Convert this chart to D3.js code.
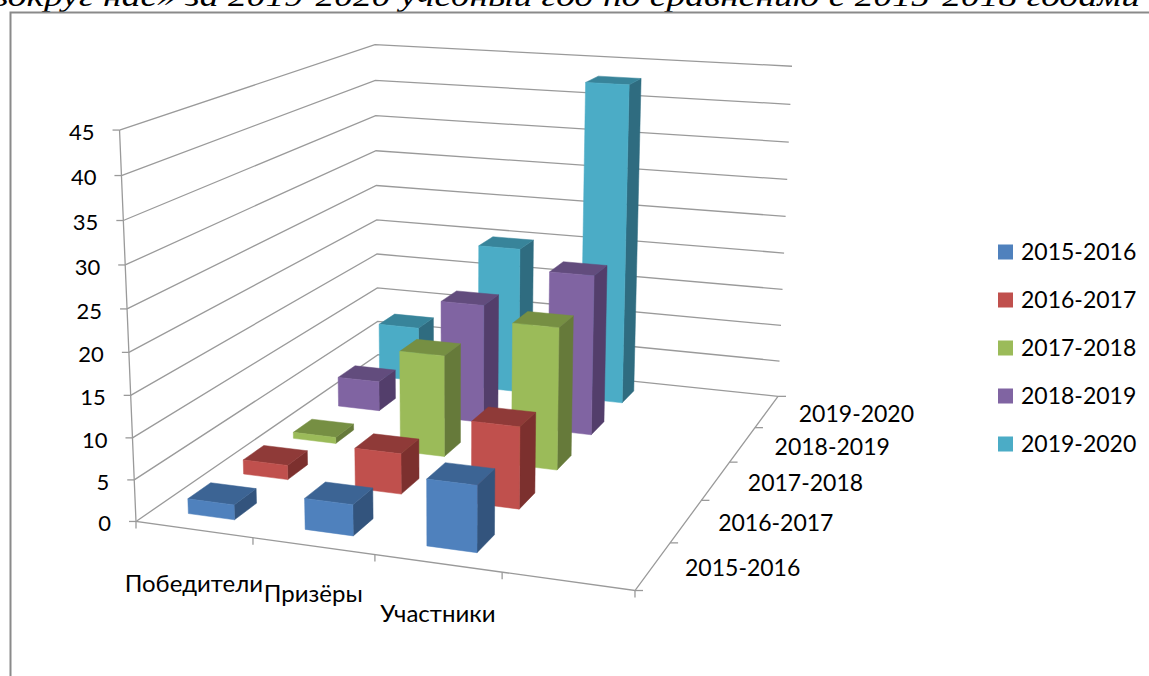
<!DOCTYPE html>
<html><head><meta charset="utf-8">
<script src="https://cdn.jsdelivr.net/npm/d3@7/dist/d3.min.js"></script>
<style>html,body{margin:0;padding:0;background:#fff;overflow:hidden}svg{display:block}text{font-family:Lato,"Open Sans",sans-serif;fill:#000}</style>
</head><body><svg id="c" width="1149" height="676"></svg>
<script>
const categories = ["Победители", "Призёры", "Участники", ""];
const seriesNames = ["2015-2016", "2016-2017", "2017-2018", "2018-2019", "2019-2020"];
const s2015 = [1.8, 3.7, 7.8];
const s2016 = [1.8, 5, 10];
const s2017 = [0.8, 13, 18];
const s2018 = [4, 15.8, 21];
const s2019 = [7.6, 20, 43];
const seriesValues = [s2015, s2016, s2017, s2018, s2019];
const yTicks = [0, 5, 10, 15, 20, 25, 30, 35, 40, 45];
const fronts = ["#4F81BD", "#C0504D", "#9BBB59", "#8064A2", "#4BACC6"];
const tops = ["#3C6494", "#8F3A38", "#768F43", "#624C7D", "#38849A"];
const sides = ["#33547D", "#7C302E", "#667A3A", "#533E6B", "#2F6C80"];
const titleText = "вокруг нас» за 2019-2020 учебный год по сравнению с 2015-2018 годами";

// Picture of the chart box's corners: (u, v, w) → pixel
const corners = [
  [0,0,0,136,522],[1,0,0,635,590],[1,0,1,778,397],[0,0,1,378,354],
  [0,1,0,119.5,130],[0,1,1,375,45],[1,1,1,792,66]
];
function solve(A,b){const n=b.length;const M=A.map((r,i)=>[...r,b[i]]);
  for(let i=0;i<n;i++){let p=i;for(let k=i+1;k<n;k++)if(Math.abs(M[k][i])>Math.abs(M[p][i]))p=k;
    [M[i],M[p]]=[M[p],M[i]];
    for(let k=0;k<n;k++){if(k===i)continue;const f=M[k][i]/M[i][i];for(let j=i;j<=n;j++)M[k][j]-=f*M[i][j];}}
  return M.map((r,i)=>r[n]/r[i]);}
const rows=[],rhs=[];
corners.forEach(([u,v,w,x,y])=>{
  rows.push([u,v,w,1,0,0,0,0,-x*u,-x*v,-x*w]);rhs.push(x);
  rows.push([0,0,0,0,u,v,w,1,-y*u,-y*v,-y*w]);rhs.push(y);
});
const AtA=d3.range(11).map(i=>d3.range(11).map(j=>d3.sum(rows,r=>r[i]*r[j])));
const Atb=d3.range(11).map(i=>d3.sum(rows,(r,k)=>r[i]*rhs[k]));
const P=solve(AtA,Atb);
const proj=(u,v,w)=>{const d=P[8]*u+P[9]*v+P[10]*w+1;
  return [(P[0]*u+P[1]*v+P[2]*w+P[3])/d,(P[4]*u+P[5]*v+P[6]*w+P[7])/d];};

const xS=d3.scaleBand().domain(categories).range([0,1]).paddingInner(0.6).paddingOuter(0.3);
const zS=d3.scaleBand().domain(seriesNames).range([0,1]).paddingInner(0.6).paddingOuter(0.3);
const yS=d3.scaleLinear().domain([0,45]).range([0,1]);

const svg=d3.select("#c");
const line=d3.line();
const grid="#9a9a9a";
// frame and heading
svg.append("text").attr("x",-8).attr("y",6).attr("textLength",1148).attr("lengthAdjust","spacingAndGlyphs")
  .style("font-family","'Liberation Serif',serif").style("font-style","italic").style("font-size","30px").text(titleText);
svg.append("path").attr("d","M10.5,676V12.5H1149").attr("fill","none").attr("stroke","#8a8a8a").attr("stroke-width",2);

// walls
const g=svg.append("g").attr("fill","none").attr("stroke",grid).attr("stroke-width",1.3);
yTicks.forEach(t=>{const v=yS(t);
  g.append("path").attr("d",line([proj(0,v,0),proj(0,v,1),proj(1,v,1)]));
  const a=proj(0,v,0);
  g.append("path").attr("d",line([[a[0]-7,a[1]],a]));
});
g.append("path").attr("d",line([proj(0,1,0),proj(0,0,0),proj(1,0,0),proj(1,0,1)]));
// category ticks (band edges)
d3.range(categories.length+1).forEach(i=>{const p=proj(i/categories.length,0,0);
  g.append("path").attr("d",line([p,[p[0],p[1]+7]]));});
// depth ticks
d3.range(seriesNames.length+1).forEach(i=>{const p=proj(1,0,i/seriesNames.length);
  g.append("path").attr("d",line([p,[p[0]+8,p[1]]]));});

// bars: back to front, left to right
const bars=svg.append("g");
d3.range(seriesNames.length-1,-1,-1).forEach(si=>{
  const w0=zS(seriesNames[si]),w1=w0+zS.bandwidth();
  seriesValues[si].forEach((val,ci)=>{
    const u0=xS(categories[ci]),u1=u0+xS.bandwidth(),v=yS(val);
    const face=(pts,c)=>bars.append("path").attr("d",line(pts)+"Z").attr("fill",c).attr("stroke",c).attr("stroke-width",0.5);
    face([proj(u1,0,w0),proj(u1,0,w1),proj(u1,v,w1),proj(u1,v,w0)],sides[si]);
    face([proj(u0,v,w0),proj(u1,v,w0),proj(u1,v,w1),proj(u0,v,w1)],tops[si]);
    face([proj(u0,0,w0),proj(u1,0,w0),proj(u1,v,w0),proj(u0,v,w0)],fronts[si]);
  });
});

// labels
const lab=svg.append("g").style("font-size","22px");
yTicks.forEach(t=>{const a=proj(0,yS(t),0);
  lab.append("text").attr("x",a[0]-25).attr("y",a[1]+2).attr("text-anchor","end").attr("dy","0.35em").text(t);});
const catLabelDy=[54,48,50];
categories.filter(c=>c).forEach((c,i)=>{const p=proj((i+0.5)/categories.length,0,0);
  lab.append("text").attr("x",p[0]).attr("y",p[1]+catLabelDy[i]).attr("text-anchor","middle").attr("dy","0.35em").style("font-size","24px").text(c);});
const yearLabel=(sel,s)=>sel.append("text").attr("dy","0.35em").style("font-size","23px").text(s);
seriesNames.forEach((s,i)=>{const p=proj(1,0,(i+0.5)/seriesNames.length);
  yearLabel(lab,s).attr("x",p[0]+32).attr("y",p[1]+2);});
// legend
const legY=d3.scalePoint().domain(seriesNames).range([252,444]);
seriesNames.forEach((s,i)=>{
  svg.append("rect").attr("x",998).attr("y",legY(s)-7.5).attr("width",15).attr("height",15).attr("fill",fronts[i]);
  yearLabel(lab,s).attr("x",1021).attr("y",legY(s));
});
</script></body></html>
